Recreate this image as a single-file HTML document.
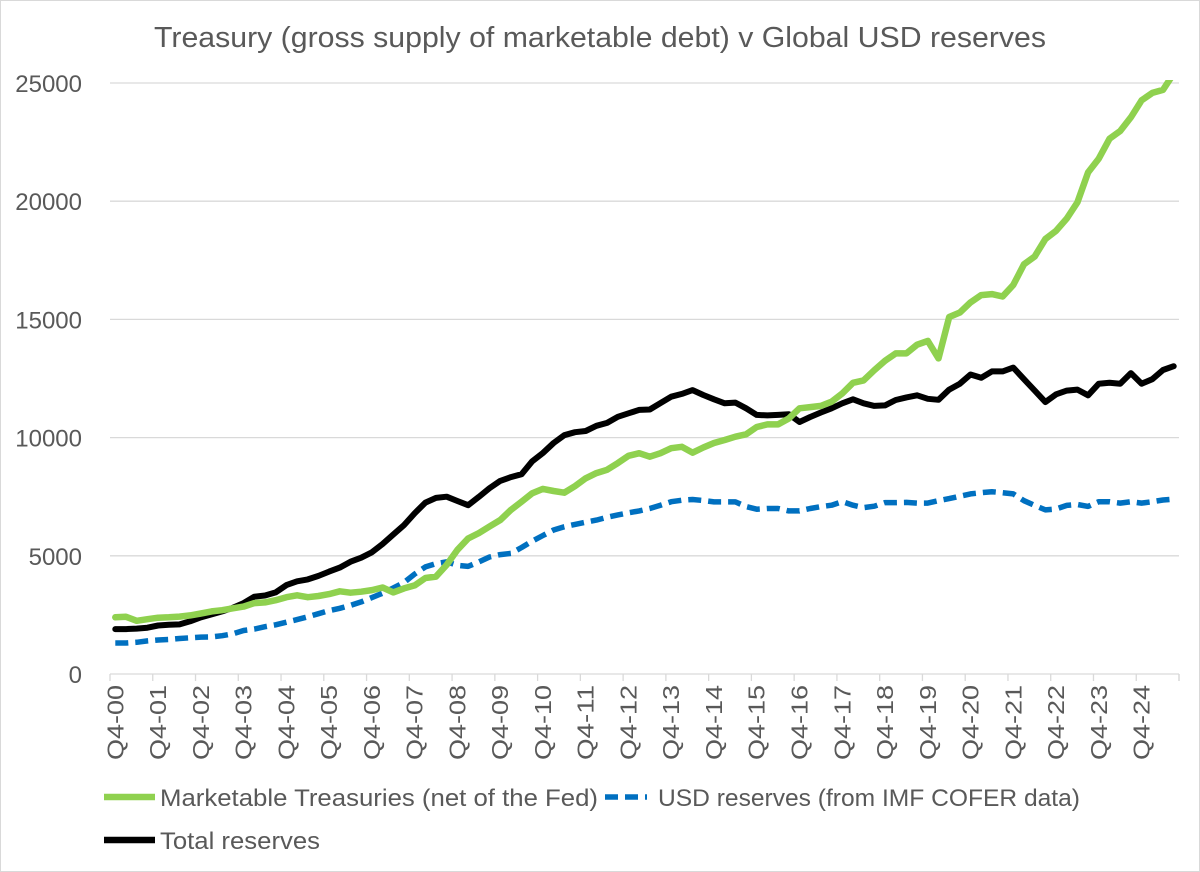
<!DOCTYPE html>
<html><head><meta charset="utf-8"><style>
html,body{margin:0;padding:0;background:#fff;}
svg{display:block;}
text{font-family:"Liberation Sans",sans-serif;fill:#595959;}
</style></head><body>
<svg id="chart" width="1200" height="872" viewBox="0 0 1200 872">
<rect x="0.5" y="0.5" width="1199" height="871" fill="#fff" stroke="#d9d9d9"/>
<text x="600" y="47" text-anchor="middle" font-size="29" textLength="892" lengthAdjust="spacingAndGlyphs">Treasury (gross supply of marketable debt) v Global USD reserves</text>
<defs><clipPath id="plotclip"><rect x="105" y="80" width="1080" height="600"/></clipPath></defs>
<g id="grid"></g><g id="xaxis"></g><g id="series" clip-path="url(#plotclip)"></g>
<g>
<line x1="104" y1="797" x2="155" y2="797" stroke="#8fd14f" stroke-width="6.5"/>
<text x="160" y="806" font-size="24" textLength="438" lengthAdjust="spacingAndGlyphs">Marketable Treasuries (net of the Fed)</text>
<line x1="605" y1="797" x2="647" y2="797" stroke="#0070c0" stroke-width="5.5" stroke-dasharray="13,7"/>
<text x="658" y="806" font-size="24" textLength="422" lengthAdjust="spacingAndGlyphs">USD reserves (from IMF COFER data)</text>
<line x1="104" y1="840" x2="155" y2="840" stroke="#000" stroke-width="6.5"/>
<text x="160" y="849" font-size="24" textLength="160" lengthAdjust="spacingAndGlyphs">Total reserves</text>
</g>
</svg>
<script>
const yTicks=[0,5000,10000,15000,20000,25000];
const treasuries=[2400,2420,2250,2320,2380,2400,2430,2480,2560,2650,2700,2780,2850,3000,3030,3120,3250,3330,3250,3300,3380,3500,3440,3480,3550,3660,3450,3620,3750,4060,4120,4620,5250,5730,5960,6240,6510,6940,7290,7650,7830,7740,7670,7950,8280,8500,8640,8920,9230,9340,9190,9340,9550,9610,9360,9580,9770,9900,10040,10140,10450,10560,10560,10810,11240,11290,11340,11520,11870,12320,12420,12850,13250,13560,13560,13930,14090,13350,15100,15290,15720,16030,16070,15970,16460,17330,17660,18400,18750,19270,19950,21220,21800,22640,22970,23550,24270,24580,24710,25400];
const usdReserves=[1310,1310,1340,1400,1440,1460,1500,1530,1560,1570,1620,1700,1840,1900,2000,2080,2190,2300,2420,2550,2680,2780,2900,3050,3230,3420,3640,3870,4230,4530,4670,4740,4600,4550,4740,4950,5050,5100,5350,5620,5860,6090,6230,6330,6420,6510,6630,6730,6820,6900,7000,7140,7290,7350,7380,7340,7280,7280,7280,7080,6970,7000,7000,6900,6900,7000,7080,7140,7290,7140,7040,7100,7250,7250,7260,7230,7230,7330,7420,7520,7620,7670,7710,7670,7620,7330,7130,6940,6980,7130,7170,7090,7290,7290,7230,7290,7230,7290,7360,7400];
const totalReserves=[1900,1900,1920,1960,2050,2080,2100,2230,2400,2520,2650,2800,3000,3270,3320,3450,3760,3920,4000,4150,4330,4500,4750,4920,5150,5500,5900,6300,6800,7250,7450,7500,7320,7140,7490,7860,8170,8330,8450,9000,9350,9770,10100,10230,10280,10500,10620,10880,11030,11170,11190,11460,11730,11850,12010,11800,11620,11450,11480,11240,10960,10940,10960,10990,10660,10870,11060,11240,11450,11620,11450,11340,11360,11590,11700,11790,11640,11600,12030,12280,12670,12530,12800,12800,12960,12470,11990,11500,11830,11990,12030,11790,12280,12320,12280,12730,12280,12470,12860,13020];
const startYear=0;
const N=treasuries.length;
const X0=110,X1=1179,Y0=674,Y1=83,YMAX=25000;
const bw=(X1-X0)/N;
function xPos(i){return X0+(i+0.5)*bw;}
function yPos(v){return Y0-(v/YMAX)*(Y0-Y1);}
const NS="http://www.w3.org/2000/svg";
function mk(tag,attrs,parent){const e=document.createElementNS(NS,tag);for(const k in attrs)e.setAttribute(k,attrs[k]);parent.appendChild(e);return e;}
const grid=document.getElementById('grid');
yTicks.forEach(v=>{
  if(v>0){const l=mk('line',{x1:X0,x2:X1,y1:yPos(v),y2:yPos(v),stroke:'#d9d9d9','stroke-width':1.3},grid);
  
  }
  const t=mk('text',{x:82,y:yPos(v)+9,'text-anchor':'end','font-size':24},grid);
  t.textContent=v;
  
  
});
const xa=document.getElementById('xaxis');
const ax=mk('line',{x1:X0,x2:X1,y1:Y0,y2:Y0,stroke:'#d9d9d9','stroke-width':1.3},xa);


for(let i=0;i<=N;i+=4){
  const tx=X0+i*bw;
  const tk=mk('line',{x1:tx,x2:tx,y1:Y0,y2:Y0+7,stroke:'#d9d9d9','stroke-width':1.3},xa);
  
  
}
const tx2=mk('line',{x1:X1,x2:X1,y1:Y0,y2:Y0+7,stroke:'#d9d9d9','stroke-width':1.3},xa);


for(let i=0;i<N;i+=4){
  const yr=String(startYear+i/4).padStart(2,'0');
  const cx=xPos(i)+8;
  const t=mk('text',{x:0,y:0,'text-anchor':'end','font-size':23,textLength:75,lengthAdjust:'spacingAndGlyphs',transform:`translate(${cx},685) rotate(-90)`},xa);
  t.textContent='Q4-'+yr;
  
  
}
const ser=document.getElementById('series');
function path(arr){return arr.map((v,i)=>(i?'L':'M')+xPos(i).toFixed(1)+','+yPos(v).toFixed(1)).join(' ');}
const p1=mk('path',{d:path(usdReserves),fill:'none',stroke:'#0070c0','stroke-width':5.5,'stroke-dasharray':'13,7','stroke-linejoin':'round'},ser);


const p2=mk('path',{d:path(totalReserves),fill:'none',stroke:'#000','stroke-width':6,'stroke-linejoin':'round','stroke-linecap':'round'},ser);


const p3=mk('path',{d:path(treasuries),fill:'none',stroke:'#8fd14f','stroke-width':6.5,'stroke-linejoin':'round','stroke-linecap':'round'},ser);


</script>
</body></html>
